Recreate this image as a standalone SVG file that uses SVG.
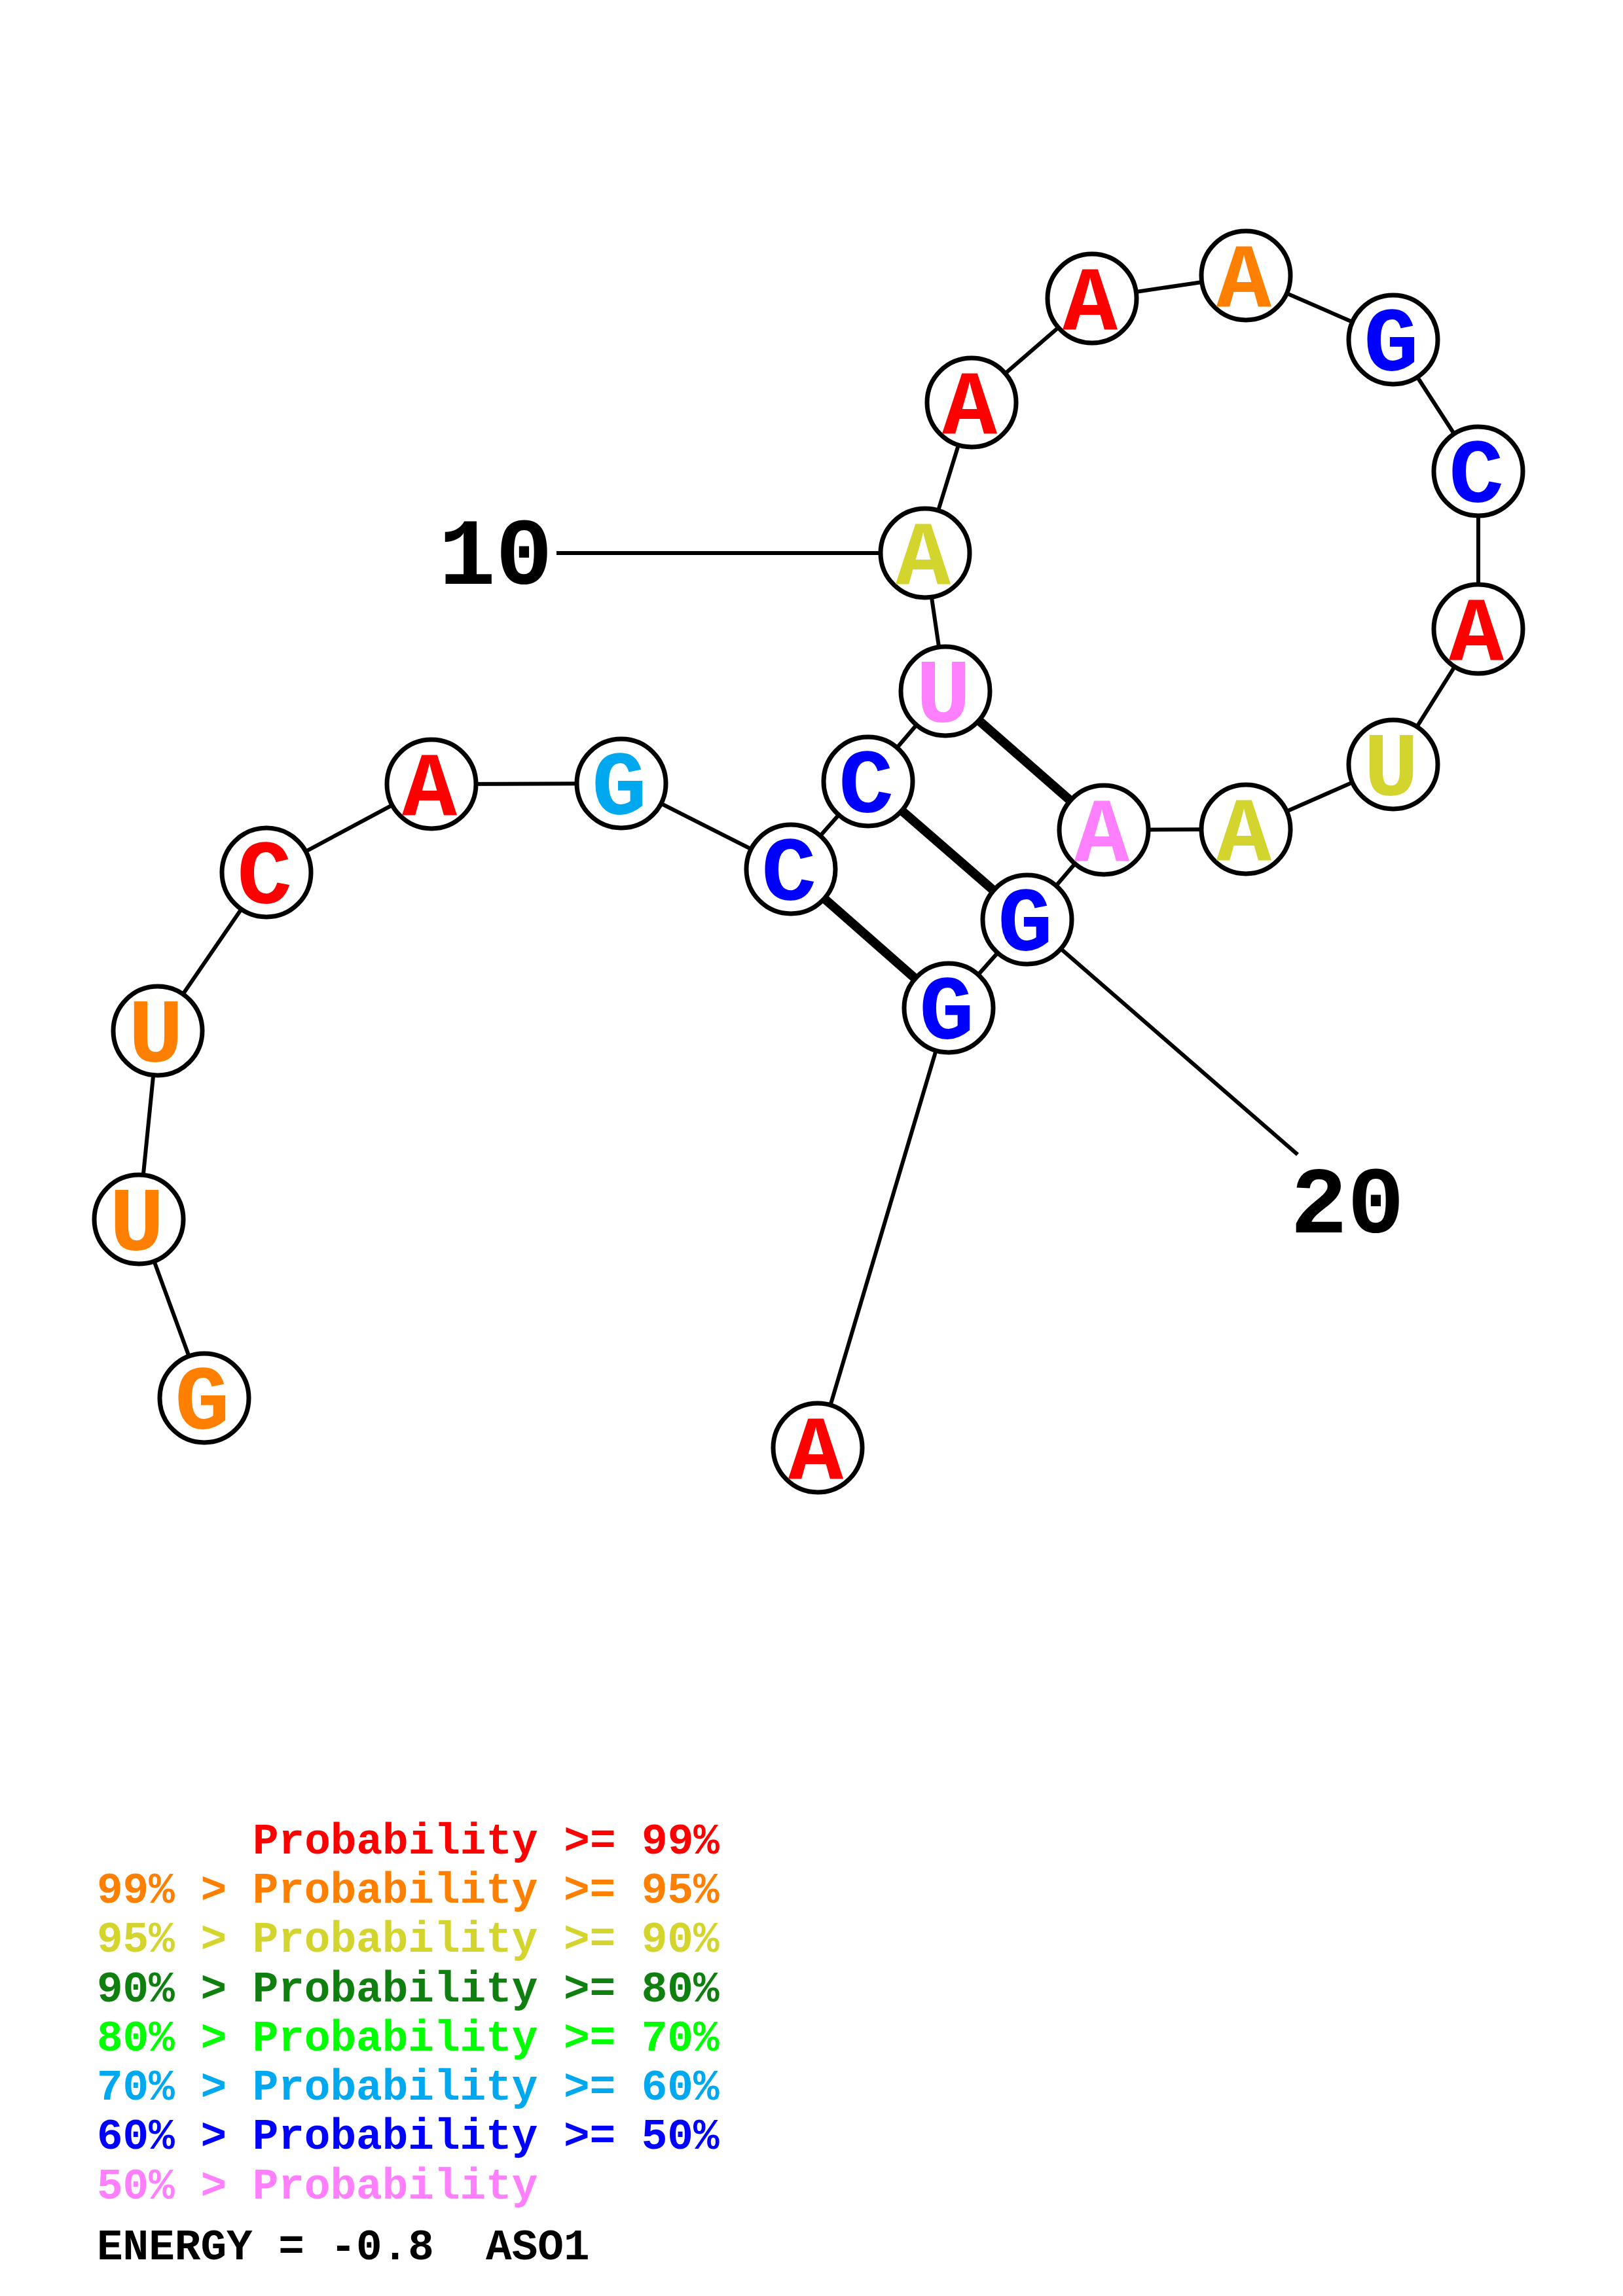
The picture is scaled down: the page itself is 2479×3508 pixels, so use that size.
<svg xmlns="http://www.w3.org/2000/svg" width="2479" height="3508" viewBox="0 0 2479 3508">
<style>
.bb{stroke:#000;stroke-width:6;fill:none}
.bp{stroke:#000;stroke-width:14;fill:none}
.nc{fill:#fff;stroke:#000;stroke-width:7}
.nt{font-family:"Liberation Mono","DejaVu Sans Mono",monospace;font-weight:bold;font-size:140px;text-anchor:middle}
.num{font-family:"Liberation Mono","DejaVu Sans Mono",monospace;font-weight:bold;font-size:145px;text-anchor:middle;fill:#000}
.lg{font-family:"Liberation Mono","DejaVu Sans Mono",monospace;font-weight:bold;font-size:66px;white-space:pre}
.red{fill:#FF0000}.org{fill:#FF8000}.yel{fill:#D4D42E}.dgr{fill:#0F800F}.grn{fill:#00FF00}.lbl{fill:#00A8F0}.blu{fill:#0000FF}.pnk{fill:#FF80FF}
</style>
<rect x="0" y="0" width="2479" height="3508" fill="#fff"/>
<g id="connectors">
<polyline class="bb" points="312,2136 212,1863 241,1575 407,1333 659,1198 949,1197 1208,1328 1326,1194 1444,1056 1413,845 1484,615 1668,456 1903,421 2128,519 2258,720 2258,961 2128,1168 1903,1267 1686,1268 1569,1405 1449,1540 1249,2212"/>
<line class="bp" x1="1208" y1="1328" x2="1449" y2="1540"/>
<line class="bp" x1="1326" y1="1194" x2="1569" y2="1405"/>
<line class="bp" x1="1444" y1="1056" x2="1686" y2="1268"/>
<line class="bb" x1="850" y1="845" x2="1413" y2="845"/>
<line class="bb" x1="1569" y1="1405" x2="1982" y2="1764"/>
</g>
<g id="n1"><circle class="nc" cx="312" cy="2136" r="68"/><text class="nt org" x="309" y="2183">G</text></g>
<g id="n2"><circle class="nc" cx="212" cy="1863" r="68"/><text class="nt org" x="209" y="1910">U</text></g>
<g id="n3"><circle class="nc" cx="241" cy="1575" r="68"/><text class="nt org" x="238" y="1622">U</text></g>
<g id="n4"><circle class="nc" cx="407" cy="1333" r="68"/><text class="nt red" x="404" y="1380">C</text></g>
<g id="n5"><circle class="nc" cx="659" cy="1198" r="68"/><text class="nt red" x="656" y="1245">A</text></g>
<g id="n6"><circle class="nc" cx="949" cy="1197" r="68"/><text class="nt lbl" x="946" y="1244">G</text></g>
<g id="n7"><circle class="nc" cx="1208" cy="1328" r="68"/><text class="nt blu" x="1205" y="1375">C</text></g>
<g id="n8"><circle class="nc" cx="1326" cy="1194" r="68"/><text class="nt blu" x="1323" y="1241">C</text></g>
<g id="n9"><circle class="nc" cx="1444" cy="1056" r="68"/><text class="nt pnk" x="1441" y="1103">U</text></g>
<g id="n10"><circle class="nc" cx="1413" cy="845" r="68"/><text class="nt yel" x="1410" y="892">A</text></g>
<g id="n11"><circle class="nc" cx="1484" cy="615" r="68"/><text class="nt red" x="1481" y="662">A</text></g>
<g id="n12"><circle class="nc" cx="1668" cy="456" r="68"/><text class="nt red" x="1665" y="503">A</text></g>
<g id="n13"><circle class="nc" cx="1903" cy="421" r="68"/><text class="nt org" x="1900" y="468">A</text></g>
<g id="n14"><circle class="nc" cx="2128" cy="519" r="68"/><text class="nt blu" x="2125" y="566">G</text></g>
<g id="n15"><circle class="nc" cx="2258" cy="720" r="68"/><text class="nt blu" x="2255" y="767">C</text></g>
<g id="n16"><circle class="nc" cx="2258" cy="961" r="68"/><text class="nt red" x="2255" y="1008">A</text></g>
<g id="n17"><circle class="nc" cx="2128" cy="1168" r="68"/><text class="nt yel" x="2125" y="1215">U</text></g>
<g id="n18"><circle class="nc" cx="1903" cy="1267" r="68"/><text class="nt yel" x="1900" y="1314">A</text></g>
<g id="n19"><circle class="nc" cx="1686" cy="1268" r="68"/><text class="nt pnk" x="1683" y="1315">A</text></g>
<g id="n20"><circle class="nc" cx="1569" cy="1405" r="68"/><text class="nt blu" x="1566" y="1452">G</text></g>
<g id="n21"><circle class="nc" cx="1449" cy="1540" r="68"/><text class="nt blu" x="1446" y="1587">G</text></g>
<g id="n22"><circle class="nc" cx="1249" cy="2212" r="68"/><text class="nt red" x="1246" y="2259">A</text></g>
<g id="labels">
<text class="num" x="757" y="892">10</text>
<text class="num" x="2058" y="1883">20</text>
</g>
<g id="legend">
<text class="lg red" x="386" y="2832">Probability &gt;= 99%</text>
<text class="lg org" x="148" y="2907">99% &gt; Probability &gt;= 95%</text>
<text class="lg yel" x="148" y="2982">95% &gt; Probability &gt;= 90%</text>
<text class="lg dgr" x="148" y="3058">90% &gt; Probability &gt;= 80%</text>
<text class="lg grn" x="148" y="3133">80% &gt; Probability &gt;= 70%</text>
<text class="lg lbl" x="148" y="3208">70% &gt; Probability &gt;= 60%</text>
<text class="lg blu" x="148" y="3283">60% &gt; Probability &gt;= 50%</text>
<text class="lg pnk" x="148" y="3359">50% &gt; Probability</text>
<text class="lg" x="148" y="3452" fill="#000">ENERGY = -0.8  ASO1</text>
</g>
</svg>
